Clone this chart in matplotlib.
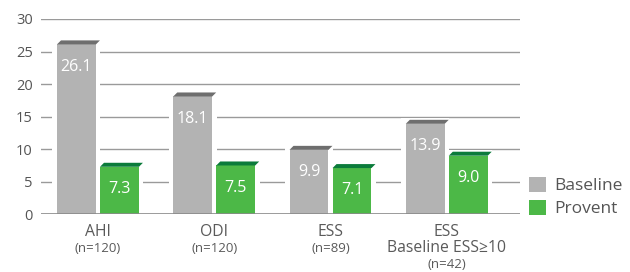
import matplotlib
matplotlib.use("Agg")
import matplotlib.pyplot as plt
from matplotlib.patches import Polygon, Patch
import numpy as np

categories = ["AHI", "ODI", "ESS", "ESS\nBaseline ESS≥10"]
n_labels = ["(n=120)", "(n=120)", "(n=89)", "(n=42)"]
baseline = [26.1, 18.1, 9.9, 13.9]
provent = [7.3, 7.5, 7.1, 9.0]
series_names = ["Baseline", "Provent"]
yticks = [0, 5, 10, 15, 20, 25, 30]

plt.rcParams['font.family'] = ['Open Sans', 'DejaVu Sans']

fig = plt.figure(figsize=(6.3, 2.72), dpi=100)
W, H = 630, 272
ax = fig.add_axes([41 / W, 1 - 214.3 / H, (520 - 41) / W, (214.3 - 19) / H])
ax.set_xlim(-0.49, 3.63)
ax.set_ylim(0, 30)

grid_c = "#9a9a9a"
for t in yticks[1:]:
    ax.axhline(t, color=grid_c, lw=1.0, zorder=1)
ax.axhline(0, color="#8a8a8a", lw=1.2, zorder=6)

x = np.arange(len(categories))
bw = 0.335
off = 0.185
gray = "#b3b3b3"
green = "#4cb847"
gray_top = "#6e6e6e"
green_top = "#0b7b3b"
px_x = 1 / 116.3
px_y = 1 / 6.51

for vals, sign, col, topc in [(baseline, -1, gray, gray_top), (provent, 1, green, green_top)]:
    xs = x + sign * off
    # white halo to interrupt gridlines
    ax.bar(xs, np.array(vals) + 6 * px_y, width=bw + 9 * px_x, color="white", zorder=2, lw=0)
    ax.bar(xs, vals, width=bw, color=col, zorder=3, lw=0)
    dx, dy = 4 * px_x, 4 * px_y
    for xi, v in zip(xs, vals):
        x0, x1 = xi - bw / 2, xi + bw / 2
        poly = Polygon([(x0, v), (x1, v), (x1 + dx, v + dy), (x0 + dx, v + dy)],
                       closed=True, color=topc, lw=0, zorder=4, clip_on=False)
        ax.add_patch(poly)
        ax.annotate(f"{v:.1f}", (xi, v), xytext=(0, -16), textcoords="offset points",
                    ha="center", va="center", color="white", fontsize=11.5, zorder=5)

ax.set_yticks(yticks)
ax.set_yticklabels([str(t) for t in yticks], color="#555555", fontsize=10.5)
ax.tick_params(axis="y", length=0, pad=6)
ax.set_xticks([])
for s in ax.spines.values():
    s.set_visible(False)

text_c = "#5a5a5a"
for xi, cat, nl in zip(x, categories, n_labels):
    lines = cat.split("\n")
    y0 = 232
    xc = ax.transData.transform((xi, 0))[0] / W
    for i, ln in enumerate(lines):
        fig.text(xc, 1 - (y0 + 16 * i) / H, ln,
                 ha="center", va="center", fontsize=11.3, color=text_c)
    fig.text(xc, 1 - (y0 + 16 * len(lines)) / H, nl,
             ha="center", va="center", fontsize=9.5, color=text_c)

handles = [Patch(facecolor=gray, edgecolor="none"), Patch(facecolor=green, edgecolor="none")]
leg = fig.legend(handles, series_names, loc="upper left", bbox_to_anchor=(513 / W, 1 - 161 / H),
                 frameon=False, fontsize=12.5, handlelength=1.0, handleheight=1.0,
                 handletextpad=0.45, labelspacing=0.3, labelcolor="#555555")

fig.savefig("out.png", dpi=100)
